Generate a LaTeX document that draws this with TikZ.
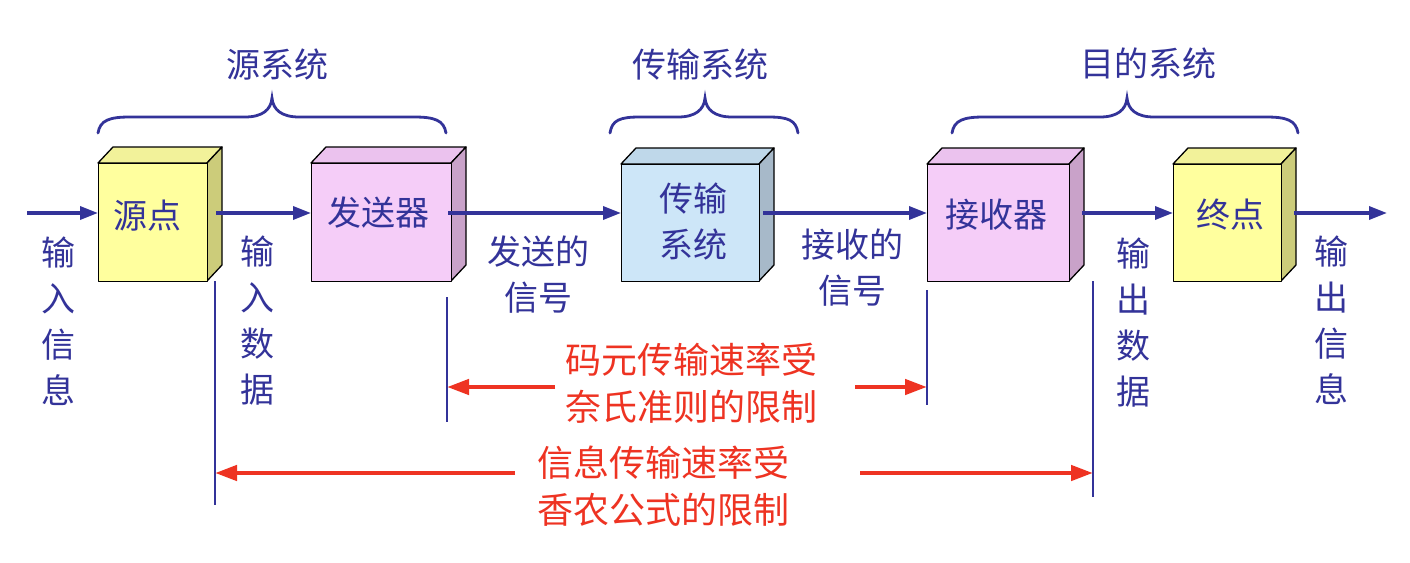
\documentclass[tikz,border=0pt]{standalone}
\usepackage{fontspec}
\setmainfont{Noto Sans CJK SC}
\usetikzlibrary{arrows.meta,calc}
\definecolor{dblue}{HTML}{333399}
\definecolor{dred}{HTML}{EE3322}
\definecolor{yfront}{HTML}{FFFF9E}
\definecolor{ytop}{HTML}{F2F29A}
\definecolor{yside}{HTML}{CCCC7A}
\definecolor{pfront}{HTML}{F5CDF8}
\definecolor{ptop}{HTML}{EBC2EE}
\definecolor{pside}{HTML}{C9A2C9}
\definecolor{bfront}{HTML}{CDE6F8}
\definecolor{btop}{HTML}{BFD8EA}
\definecolor{bside}{HTML}{A7B9C9}
\tikzset{
  lbl/.style={text=dblue, font=\fontsize{34}{46}\selectfont, align=center, inner sep=0pt},
  redlbl/.style={text=dred, font=\fontsize{36}{47}\selectfont, align=center, inner sep=2pt},
  flow/.style={draw=dblue, line width=3.4pt, -{Triangle[length=18pt,width=13pt]}},
  redarrow/.style={draw=dred, line width=4.4pt, -{Triangle[length=22pt,width=15pt]}},
  vline/.style={draw=dblue, line width=1.5pt},
  brace/.style={draw=dblue, line width=2.8pt, line cap=round},
  front/.style={draw=black, line width=1.3pt, inner sep=0pt, anchor=north west, line join=round},
}
\newcommand{\cube}[6]{% name, x1, y1, x2, y2, colours prefix
  \fill[#6top, draw=black, line width=1.3pt, line join=round] (#2,#3) -- ++(15,-16) -- (#4+15,#3-16) -- (#4,#3) -- cycle;
  \fill[#6side, draw=black, line width=1.3pt, line join=round] (#4,#3) -- (#4+15,#3-16) -- (#4+15,#5-16) -- (#4,#5) -- cycle;
  \node[front, fill=#6front, minimum width={(#4-#2)*1pt}, minimum height={(#5-#3)*1pt}] (#1) at (#2,#3) {};
}
\begin{document}
\begin{tikzpicture}[x=1pt,y=-1pt]
\useasboundingbox (0,0) rectangle (1410,562);
\fill[white] (0,0) rectangle (1410,562);

% boxes
\cube{src}{98}{163}{207}{281}{y}
\cube{snd}{311}{163}{451}{281}{p}
\cube{trn}{621}{164}{759}{281}{b}
\cube{rcv}{927}{164}{1069}{281}{p}
\cube{dst}{1173}{164}{1281}{281}{y}

\node[lbl] at (147,216) {源点};
\node[lbl] at (378,213) {发送器};
\node[lbl] at (693,221) {传输\\系统};
\node[lbl] at (996,215) {接收器};
\node[lbl] at (1230,215) {终点};

% flow arrows (at y = 213)
\coordinate (in) at (27,213);
\coordinate (out) at (1387,213);
\coordinate (ay) at (0,213);
\draw[flow] (in) -- (in -| src.west);
\draw[flow] ($(src.east |- ay)+(8,0)$) -- (snd.west |- ay);
\draw[flow] ($(snd.east |- ay)+(-4,0)$) -- (trn.west |- ay);
\draw[flow] ($(trn.east |- ay)+(3,0)$) -- (rcv.west |- ay);
\draw[flow] ($(rcv.east |- ay)+(12,0)$) -- (dst.west |- ay);
\draw[flow] ($(dst.east |- ay)+(12,0)$) -- (out);

% labels
\node[lbl] (l1) at (58,321) {输\\入\\信\\息};
\node[lbl] (l2) at (257,321) {输\\入\\数\\据};
\node[lbl] (l3) at (538,275) {发送的\\信号};
\node[lbl] (l4) at (852,268) {接收的\\信号};
\node[lbl] (l5) at (1133,323) {输\\出\\数\\据};
\node[lbl] (l6) at (1331,320) {输\\出\\信\\息};

% braces
\draw[brace] (98,133) .. controls (100,120) and (110,117) .. (130,117) -- (245,117) .. controls (262,117) and (271,110) .. (272,98)
  .. controls (273,110) and (282,117) .. (299,117) -- (414,117) .. controls (434,117) and (444,120) .. (446,133);
\draw[brace] (610,133) .. controls (612,120) and (620,117) .. (640,117) -- (678,117) .. controls (695,117) and (704,110) .. (705,98)
  .. controls (706,110) and (715,117) .. (732,117) -- (768,117) .. controls (788,117) and (796,120) .. (798,133);
\draw[brace] (952,133) .. controls (954,120) and (964,117) .. (984,117) -- (1100,117) .. controls (1117,117) and (1126,110) .. (1127,98)
  .. controls (1128,110) and (1137,117) .. (1154,117) -- (1266,117) .. controls (1286,117) and (1296,120) .. (1298,133);
\node[lbl] (g1) at (277,65) {源系统};
\node[lbl] (g2) at (700,65) {传输系统};
\node[lbl] (g3) at (1148,63) {目的系统};

% vertical marker lines
\coordinate (v1t) at (215,281); \coordinate (v1b) at (215,505);
\coordinate (v2t) at (447,297); \coordinate (v2b) at (447,422);
\coordinate (v3t) at (927,290); \coordinate (v3b) at (927,405);
\coordinate (v4t) at (1093,281); \coordinate (v4b) at (1093,497);
\draw[vline] (v1t) -- (v1b);
\draw[vline] (v2t) -- (v2b);
\draw[vline] (v3t) -- (v3b);
\draw[vline] (v4t) -- (v4b);

% red annotations
\node[redlbl] (r1) at (691,383) {码元传输速率受\\奈氏准则的限制};
\node[redlbl] (r2) at (663,486) {信息传输速率受\\香农公式的限制};
\coordinate (r1l) at (447,387); \coordinate (r1r) at (927,387);
\coordinate (r2l) at (215,473); \coordinate (r2r) at (1093,473);
\draw[redarrow] (555,387) -- (r1l);
\draw[redarrow] (855,387) -- (r1r);
\draw[redarrow] (515,473) -- (r2l);
\draw[redarrow] (860,473) -- (r2r);
\end{tikzpicture}
\end{document}
